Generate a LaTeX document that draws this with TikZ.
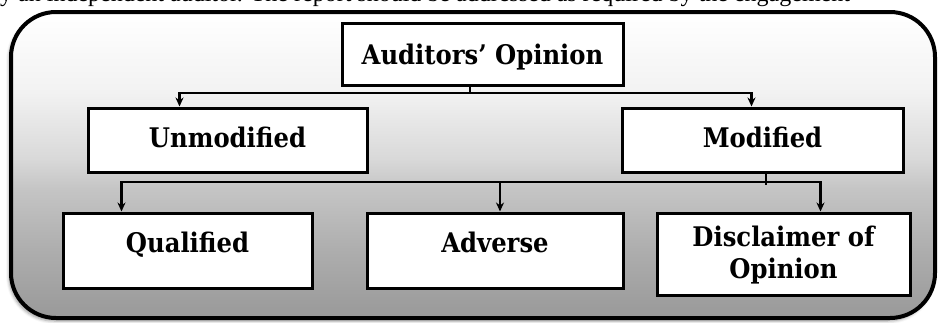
\documentclass[tikz,border=0pt]{standalone}
\usepackage{fontspec}
\setmainfont{Liberation Serif}
\newfontfamily\labelfont{DejaVu Serif Condensed}
\usetikzlibrary{arrows.meta,calc,shadows.blur}

% soft grey fade of the panel, darker towards the bottom
\pgfdeclareverticalshading{panelfade}{100bp}{%
  color(0bp)=(black!40); color(25bp)=(black!40); color(36bp)=(black!32);
  color(46bp)=(black!23); color(51bp)=(black!15); color(62bp)=(black!5);
  color(75bp)=(white); color(100bp)=(white)}

\begin{document}
\begin{tikzpicture}[x=1pt,y=-1pt,
  boxnode/.style={draw=black, line width=3pt, fill=white, inner sep=0pt},
  lbl/.style={font=\labelfont\bfseries\fontsize{27}{32}\selectfont,
              inner sep=0pt, anchor=base, align=center},
  link/.style={line width=2.2pt, draw=black},
  arrowlink/.style={link, -{Stealth[length=9pt,width=8pt]}}]
\useasboundingbox (0,0) rectangle (938,322);

% running text of the page above the figure, only its lower part on the page
\begin{scope}
  \clip (0,0) rectangle (938,322);
  \node[anchor=base west, inner sep=0pt] (runin) at (-12,1)
    {\fontsize{24}{26}\selectfont by an independent auditor. The report should be addressed as required by the engagement};
\end{scope}

% panel behind the chart
\path[draw=black, line width=4pt, rounded corners=45pt, shading=panelfade,
      blur shadow={shadow xshift=-2pt, shadow yshift=-3pt, shadow blur radius=3pt, shadow opacity=40}]
  (11,12) rectangle (935,318);

% boxes
\node[boxnode, minimum width=281pt, minimum height=62pt] (top)   at (482.5,54)  {};
\node[boxnode, minimum width=279pt, minimum height=64pt] (unmod) at (227.5,140) {};
\node[boxnode, minimum width=281pt, minimum height=64pt] (mod)   at (762.5,140) {};
\node[boxnode, minimum width=249pt, minimum height=75pt] (qual)  at (187.5,250.5) {};
\node[boxnode, minimum width=256pt, minimum height=75pt] (adv)   at (495,250.5) {};
\node[boxnode, minimum width=253pt, minimum height=82pt] (disc)  at (783.5,254) {};

% labels (base anchor of a two-line label sits on its last line)
\node[lbl] (top-t)   at (482.5,64)  {Auditors’ Opinion};
\node[lbl] (unmod-t) at (227.5,147) {Unmodified};
\node[lbl] (mod-t)   at (762.5,147) {Modified};
\node[lbl] (qual-t)  at (187.5,252) {Qualified};
\node[lbl] (adv-t)   at (495,252)   {Adverse};
\node[lbl] (disc-t)  at (783.5,278) {Disclaimer of\\Opinion};

% first split
\coordinate (split1) at (470,93);
\draw[link] (top.south -| split1) -- (split1);
\draw[arrowlink] (split1) -| ($(unmod.north west)+(93,0)$);
\draw[arrowlink] (split1) -| ($(mod.north west)+(131,0)$);

% second split
\coordinate (split2) at (766,182);
\draw[link] (mod.south -| split2) -- ($(split2)+(0,3)$);
\draw[arrowlink] (split2) -| ($(qual.north west)+(60,0)$);
\draw[arrowlink] (split2) -| ($(adv.north)+(5,0)$);
\draw[arrowlink] (split2) -| ($(disc.north west)+(165,0)$);
\end{tikzpicture}
\end{document}
